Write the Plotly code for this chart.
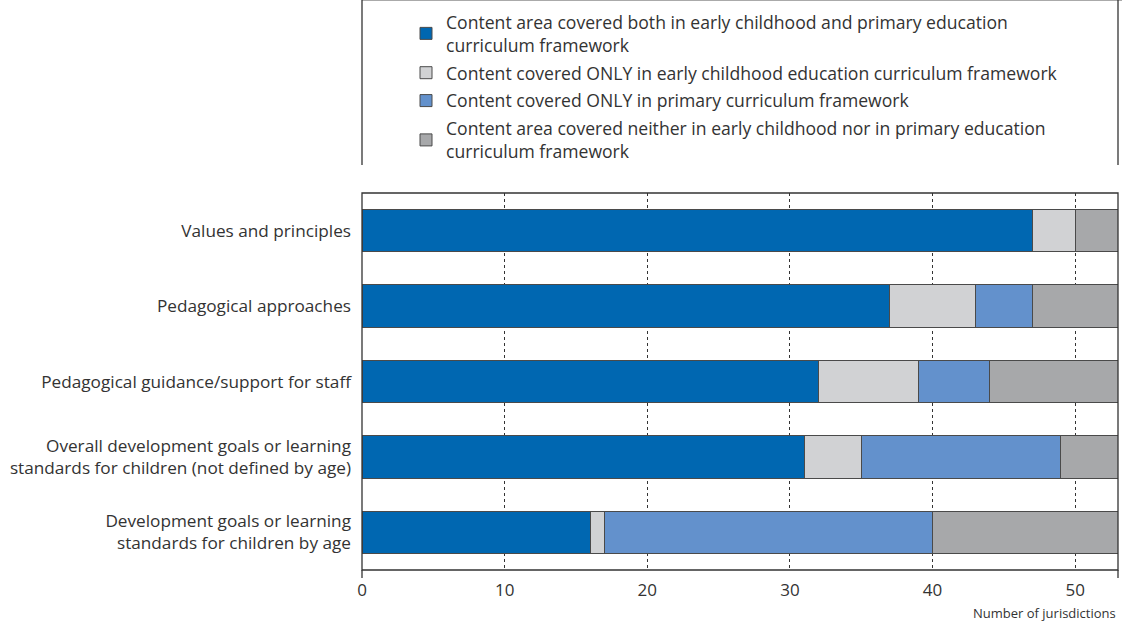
import plotly.graph_objects as go

categories = [
    "Values and principles",
    "Pedagogical approaches",
    "Pedagogical guidance/support for staff",
    "Overall development goals or learning<br>standards for children (not defined by age)",
    "Development goals or learning<br>standards for children by age",
]
both = [47, 37, 32, 31, 16]
ecec_only = [3, 6, 7, 4, 1]
primary_only = [0, 4, 5, 14, 23]
neither = [3, 6, 9, 4, 13]

series_names = [
    "Content area covered both in early childhood and primary education<br>curriculum framework",
    "Content covered ONLY in early childhood education curriculum framework",
    "Content covered ONLY in primary curriculum framework",
    "Content area covered neither in early childhood nor in primary education<br>curriculum framework",
]
series_values = [both, ecec_only, primary_only, neither]
colors = ["#0067B1", "#D1D2D4", "#6391CC", "#A7A8AA"]

FONT = "Open Sans"
W, H = 1122, 623
L, R, T, B = 362, 4, 193, 53
PW, PH = W - L - R, H - T - B

fig = go.Figure()
for i, (name, vals, col) in enumerate(zip(series_names, series_values, colors)):
    fig.add_trace(go.Bar(
        y=categories, x=vals, name=name, orientation="h",
        legendgroup=f"g{i}",
        marker=dict(color=col, line=dict(color="#4a4a4a", width=1)),
        width=0.56,
    ))

fig.update_layout(
    width=W, height=H,
    barmode="stack",
    plot_bgcolor="white", paper_bgcolor="white",
    margin=dict(l=L, r=R, t=T, b=B, autoexpand=False),
    font=dict(family=FONT, color="#333333", size=16),
    showlegend=True,
    legend=dict(
        x=(406 - L) / PW, xanchor="left",
        y=1 - 4 / H, yref="container", yanchor="top",
        font=dict(family=FONT, size=17.6, color="#333333"),
        traceorder="grouped", tracegroupgap=2,
        bgcolor="rgba(0,0,0,0)", itemwidth=30,
    ),
    xaxis=dict(
        range=[0, 53], tickvals=[0, 10, 20, 30, 40, 50],
        showgrid=True, gridcolor="#333333", gridwidth=1, griddash="3px,3px",
        zeroline=False, showline=False, ticks="",
        ticklabelstandoff=8,
        tickfont=dict(family=FONT, size=17, color="#333333"),
    ),
    yaxis=dict(
        autorange="reversed", showgrid=False, zeroline=False, ticks="",
        ticklabelstandoff=10,
        tickfont=dict(family=FONT, size=17.2, color="#333333"),
    ),
)

# plot frame
fig.add_shape(type="rect", xref="paper", yref="paper", x0=0, x1=1, y0=0, y1=1,
              line=dict(color="#333333", width=1.3), layer="above")
# axis end extensions below
for xv in [0, 1]:
    fig.add_shape(type="line", xref="paper", yref="paper", x0=xv, x1=xv,
                  y0=0, y1=-8 / PH, line=dict(color="#333333", width=1.3))
# legend frame
fig.add_shape(type="line", xref="paper", yref="paper", x0=0, x1=(W - L) / PW,
              y0=1 + T / PH, y1=1 + T / PH, line=dict(color="#aaaaaa", width=2))
for xv in [0, 1]:
    fig.add_shape(type="line", xref="paper", yref="paper", x0=xv, x1=xv,
                  y0=1 + T / PH, y1=1 + (T - 165) / PH, line=dict(color="#333333", width=1.3))

fig.add_annotation(text="Number of jurisdictions", xref="paper", yref="paper",
                   x=1, y=-43 / PH, xanchor="right", yanchor="middle", showarrow=False,
                   font=dict(family=FONT, size=13, color="#333333"))

fig.write_html(
    "out.html",
    config={"displayModeBar": False},
    post_script="document.body.style.margin='0px';document.body.style.overflow='hidden';",
)
